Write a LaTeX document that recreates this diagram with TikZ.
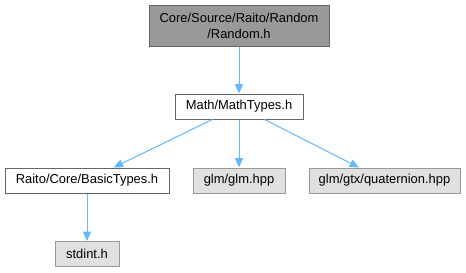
\documentclass[tikz,border=0pt]{standalone}
\usepackage{fontspec}
\setmainfont{Liberation Sans}
\usetikzlibrary{positioning,arrows.meta}
\definecolor{edgeblue}{HTML}{63B8FF}
\definecolor{rootfill}{HTML}{999999}
\definecolor{extfill}{HTML}{E0E0E0}
\definecolor{darkbrd}{HTML}{666666}
\definecolor{extbrd}{HTML}{999999}
\tikzset{
  >={Triangle[length=7pt,width=6pt]},
  file/.style={draw=darkbrd, line width=0.75pt, fill=white, inner sep=0pt,
               minimum height=18.75pt, align=center,
               font=\fontsize{9.7}{12}\selectfont},
  rootfile/.style={file, fill=rootfill, minimum height=30.75pt},
  extfile/.style={file, fill=extfill, draw=extbrd},
  inc/.style={->, draw=edgeblue, fill=edgeblue, line width=0.75pt},
}
\begin{document}
\begin{tikzpicture}[x=0.75pt,y=-0.75pt]
  \useasboundingbox (0,0) rectangle (466,272);
  \node[rootfile,minimum width=135pt] (rnd) at (239,25.5){Core/Source/Raito/Random\\/Random.h};
  \node[file,minimum width=96pt] (math) at (239,106.5){Math/MathTypes.h};
  \node[file,minimum width=123pt] (basic) at (87,180.5){Raito/Core/BasicTypes.h};
  \node[extfile,minimum width=69pt] (glm) at (239,180.5){glm/glm.hpp};
  \node[extfile,minimum width=113.25pt] (quat) at (384.5,180.5){glm/gtx/quaternion.hpp};
  \node[extfile,minimum width=48pt] (stdint) at (87,254){stdint.h};
  \draw[inc](rnd)--(math);
  \draw[inc](math)--(basic);\draw[inc](math)--(glm);\draw[inc](math)--(quat);
  \draw[inc](basic)--(stdint);
\end{tikzpicture}
\end{document}
